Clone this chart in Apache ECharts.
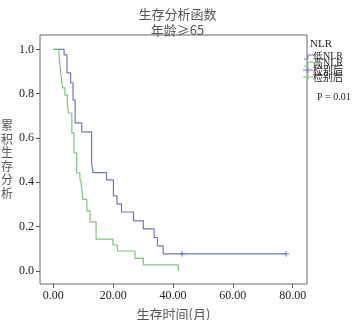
<!DOCTYPE html>
<html>
<head>
<meta charset="utf-8">
<script src="https://cdn.jsdelivr.net/npm/echarts@6/dist/echarts.min.js"></script>
<style>
  html, body { margin: 0; padding: 0; background: #fff; }
  #chart { width: 355px; height: 320px; }
</style>
</head>
<body>
<div id="chart"></div>
<script>
// survival steps: time (month) of each drop, survival after the drop
const lowTimes = [0, 3.6, 4.6, 5.8, 6.6, 7.3, 9.5, 12.8, 13.3, 17.8, 20.1, 21.3, 22.8, 26.8, 30.1, 33.7, 34.8, 36.7, 77.8];
const lowSurv  = [1.0, 0.975, 0.894, 0.849, 0.772, 0.668, 0.628, 0.488, 0.444, 0.411, 0.339, 0.302, 0.266, 0.226, 0.190, 0.151, 0.113, 0.077, 0.077];
const highTimes = [0, 1.9, 2.2, 2.5, 3.1, 3.9, 4.7, 5.1, 6.2, 6.9, 7.8, 8.9, 9.3, 9.9, 11.2, 12.3, 14.3, 19.9, 21.4, 27.3, 30.1, 41.8];
const highSurv  = [1.0, 0.975, 0.93, 0.894, 0.826, 0.794, 0.749, 0.713, 0.623, 0.533, 0.442, 0.415, 0.397, 0.323, 0.271, 0.221, 0.144, 0.117, 0.090, 0.057, 0.027, 0.0];
// censored points (low NLR only)
const lowCensorTimes = [43.0, 77.8];
const lowCensorSurv = [0.077, 0.077];

const xTicks = [0, 20, 40, 60, 80];
const yTicks = [0, 0.2, 0.4, 0.6, 0.8, 1.0];

const blue = '#6f78bd';
const green = '#7cc47e';
const serif = '"Liberation Serif", "Times New Roman", serif';
const cjk = '"Noto Sans CJK SC", sans-serif';
const plus = 'path://M5,0L5,10M0,5L10,5';

function zip(a, b) {
    let list = [];
    for (let i = 0; i < a.length; i++) {
        list.push([a[i], b[i]]);
    }
    return list;
}

let chart = echarts.init(document.getElementById('chart'));
chart.setOption({
    animation: false,
    title: [
        {
            text: '生存分析函数',
            left: 'center',
            top: 3,
            textStyle: {fontFamily: cjk, fontWeight: 'normal', fontSize: 13, color: '#555'}
        },
        {
            text: '年龄≥65',
            left: 'center',
            top: 19,
            textStyle: {fontFamily: cjk, fontWeight: 'normal', fontSize: 13, color: '#555'}
        }
    ],
    grid: {
        left: 40,
        right: 48,
        top: 35,
        bottom: 36,
        outerBoundsMode: 'none',
        containLabel: false,
        show: true,
        borderColor: '#666',
        borderWidth: 1
    },
    xAxis: {
        type: 'value',
        min: -4.44,
        max: 84.78,
        name: '生存时间(月)',
        nameLocation: 'middle',
        nameGap: 24,
        nameTextStyle: {fontFamily: cjk, fontSize: 13, color: '#555'},
        axisLine: {show: false, onZero: false},
        splitLine: {show: false},
        axisTick: {show: true, inside: false, length: 4, customValues: xTicks, lineStyle: {color: '#555'}},
        axisLabel: {
            customValues: xTicks,
            margin: 6,
            fontFamily: serif,
            fontSize: 12,
            color: '#222',
            formatter: function (v) { return v.toFixed(2); }
        }
    },
    yAxis: {
        type: 'value',
        min: -0.059,
        max: 1.065,
        name: '累\n积\n生\n存\n分\n析',
        nameLocation: 'middle',
        nameRotate: 0,
        nameGap: 25,
        nameTextStyle: {fontFamily: cjk, fontSize: 12, lineHeight: 13.5, color: '#555'},
        axisLine: {show: false, onZero: false},
        splitLine: {show: false},
        axisTick: {show: true, inside: false, length: 4, customValues: yTicks, lineStyle: {color: '#555'}},
        axisLabel: {
            customValues: yTicks,
            margin: 6,
            fontFamily: serif,
            fontSize: 12,
            color: '#222',
            formatter: function (v) { return v.toFixed(1); }
        }
    },
    series: [
        {
            name: '低NLR',
            type: 'line',
            step: 'end',
            symbol: 'none',
            lineStyle: {color: blue, width: 1.2},
            data: zip(lowTimes, lowSurv)
        },
        {
            name: '高NLR',
            type: 'line',
            step: 'end',
            symbol: 'none',
            lineStyle: {color: green, width: 1.2},
            data: zip(highTimes, highSurv)
        },
        {
            name: '低NLR检别后',
            type: 'scatter',
            symbol: plus,
            symbolSize: 6,
            itemStyle: {color: 'none', borderColor: blue, borderWidth: 1.2},
            data: zip(lowCensorTimes, lowCensorSurv)
        }
    ],
    graphic: [
        {type: 'text', left: 310, top: 39, style: {text: 'NLR', font: '11px ' + serif, fill: '#222'}},
        {type: 'polyline', shape: {points: [[304, 59], [308, 59], [308, 55], [313, 55]]}, style: {stroke: blue, lineWidth: 1, fill: null}},
        {type: 'text', left: 313, top: 51, style: {text: '低NLR', font: '10px ' + serif, fill: '#222'}},
        {type: 'polyline', shape: {points: [[304, 66], [308, 66], [308, 62], [313, 62]]}, style: {stroke: green, lineWidth: 1, fill: null}},
        {type: 'text', left: 313, top: 58, style: {text: '高NLR', font: '10px ' + serif, fill: '#222'}},
        {type: 'polyline', shape: {points: [[303, 70], [313, 70]]}, style: {stroke: blue, lineWidth: 1, fill: null}},
        {type: 'polyline', shape: {points: [[308, 67], [308, 73]]}, style: {stroke: blue, lineWidth: 1, fill: null}},
        {type: 'text', left: 313, top: 65, style: {text: '检别后', font: '10px ' + cjk, fill: '#222'}},
        {type: 'polyline', shape: {points: [[303, 77], [313, 77]]}, style: {stroke: green, lineWidth: 1, fill: null}},
        {type: 'polyline', shape: {points: [[308, 74], [308, 80]]}, style: {stroke: green, lineWidth: 1, fill: null}},
        {type: 'text', left: 313, top: 72, style: {text: '检别后', font: '10px ' + cjk, fill: '#222'}},
        {type: 'text', left: 317, top: 92, style: {text: 'P = 0.01', font: '10px ' + serif, fill: '#222'}}
    ]
});
</script>
</body>
</html>
